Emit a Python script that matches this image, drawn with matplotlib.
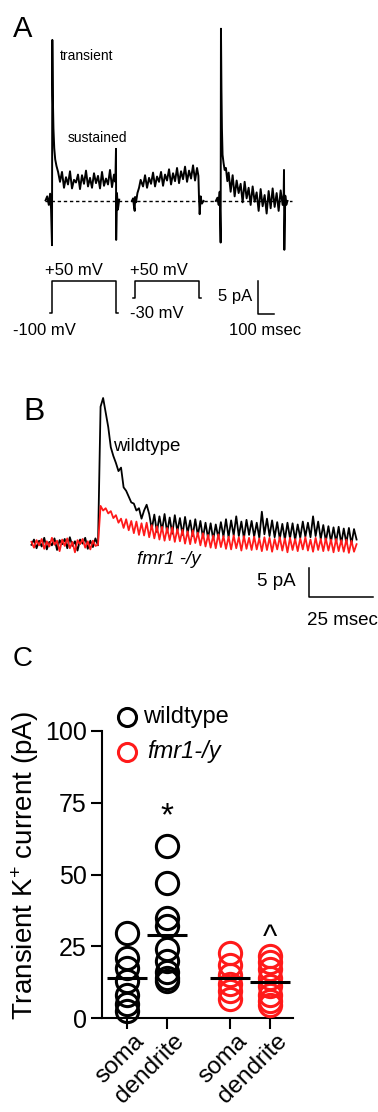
import numpy as np
import matplotlib
matplotlib.use("Agg")
import matplotlib.pyplot as plt
import matplotlib.transforms as mtransforms

plt.rcParams['font.family'] = ['Liberation Sans', 'DejaVu Sans']
plt.rcParams['mathtext.fontset'] = 'custom'
plt.rcParams['mathtext.rm'] = 'Liberation Sans'
plt.rcParams['mathtext.it'] = 'Liberation Sans:italic'

W, H = 378, 1112
RED = '#ff1a1a'

# ---- panel A: current traces (ms from step onset, pA) ----
seg1_t = [-40, -30, -20, -12, -6, 0, 2, 5, 9, 14,
          20, 28, 38, 50,
          62.5, 75, 87.5, 100, 112.5, 125, 137.5, 150, 162.5, 175,
          187.5, 200, 212.5, 225, 237.5, 250, 262.5, 275, 287.5, 300,
          312.5, 325, 337.5, 350, 362.5, 375, 387.5,
          396, 400, 401, 406, 412, 420]
seg1_pA = [0.1, 0.7, -0.6, 1.1, -1.2, -6.7, 24.4, 16.0, 11.0, 8.0,
           6.3, 5.3, 4.4, 2.9,
           4.4, 2.0, 3.6, 2.5, 4.5, 1.9, 3.2, 2.8, 4.0, 1.8,
           3.9, 2.6, 4.6, 2.2, 3.5, 2.0, 4.2, 2.7, 3.8, 1.9,
           4.4, 2.3, 3.4, 2.5, 4.7, 2.1, 4.0,
           2.9, 7.9, -5.9, 1.2, -1.3, 0.2]

seg2_t = [-20, -12, -6, -2, 0, 6, 15, 25, 35, 50,
          62.5, 75, 87.5, 100, 112.5, 125, 137.5, 150, 162.5, 175,
          187.5, 200, 212.5, 225, 237.5, 250, 262.5, 275, 287.5, 300,
          312.5, 325, 337.5, 350, 362.5, 375, 387.5,
          396, 400, 404, 410, 418, 428]
seg2_pA = [0.0, 0.4, -1.0, -1.5, 0.6, -0.2, 1.2, 2.0, 3.2, 2.2,
           3.9, 2.0, 3.5, 2.6, 4.3, 2.2, 3.7, 2.9, 4.4, 2.3,
           4.0, 3.1, 4.8, 2.5, 4.2, 3.0, 5.0, 2.7, 4.5, 3.3,
           5.2, 2.9, 4.6, 3.4, 5.4, 3.1, 5.0,
           3.8, 0.3, -2.0, 0.7, -0.4, 0.0]

seg3_t = [-30, -20, -12, -6, 0, 2, 5, 8, 12, 18,
          25, 33, 42, 50,
          62.5, 75, 87.5, 100, 112.5, 125, 137.5, 150, 162.5, 175,
          187.5, 200, 212.5, 225, 237.5, 250, 262.5, 275, 287.5, 300,
          312.5, 325, 337.5, 350, 362.5, 375, 387.5,
          394, 396, 398, 404, 410, 418]
seg3_pA = [0.0, 0.5, -0.6, 1.4, -6.3, 26.1, 17.0, 11.0, 7.0, 5.8,
           4.7, 5.0, 3.0, 4.3,
           1.4, 3.9, 0.7, 3.1, 1.2, 2.6, -0.2, 2.9, 0.4, 2.0,
           -0.6, 2.2, -0.1, 1.3, -1.5, 1.8, -0.8, 0.9, -1.9, 1.5,
           -1.1, 1.9, -0.9, 1.2, -1.5, 1.6, -0.6,
           1.0, 4.7, -7.4, 0.8, -0.6, 0.0]

seg_offsets_ms = [0, 519, 1054]

# voltage protocol
hold_mV = [-100, -30]
step_mV = 50
step_ms = 400

# ---- panel B: wildtype vs fmr1 -/y traces, 1 ms sampling ----
b_t = np.arange(-26, 102)
b_wt = [-0.3, 0.6, -0.9, 0.4, -0.6, 0.9, -1.1, 0.2, -0.4, 0.8,
        -1.2, 0.5, -0.2, 0.7, -0.9, 1.0, -0.5, 0.3, -1.3, 0.6,
        -0.1, 0.9, -1.0, 0.4, -0.7, 0.8,
        -0.4, 23.5, 25.0, 22.5, 20.0, 16.5, 15.0, 13.8, 12.4, 13.0,
        9.6, 9.0, 8.0, 7.0, 6.8, 5.6, 6.0, 4.2,
        5.6, 6.6, 5.0, 2.4, 4.9, 1.9, 4.6, 2.1, 5.0, 1.8,
        4.4, 1.6, 4.8, 2.0, 4.3, 1.4, 4.5, 1.7, 3.9, 1.2,
        4.1, 1.3, 3.8, 0.9, 3.5, 0.8, 3.4, 0.6, 3.2, 0.9,
        3.6, 1.1, 4.1, 1.0, 3.9, 1.3, 4.6, 1.2, 3.7, 0.8,
        4.0, 1.4, 3.8, 1.1, 3.5, 0.9, 5.4, 1.5, 4.2, 1.2,
        3.9, 1.0, 3.6, 0.7, 3.3, 0.6, 3.5, 0.8, 3.4, 0.5,
        3.2, 0.9, 3.7, 1.1, 3.5, 1.0, 4.6, 1.2, 3.7, 0.7,
        3.1, 0.3, 2.9, 0.2, 2.7, 0.1, 2.8, -0.1, 2.5, 0.0,
        2.6, -0.2, 2.4, 0.6]
b_ko = [0.2, -0.8, 0.5, -0.4, 0.7, -1.0, 0.3, -0.6, 0.9, -0.3,
        0.4, -1.4, 0.6, -0.5, 0.8, -0.9, 0.2, -1.6, 0.5, -0.2,
        0.7, -0.8, 0.3, -1.1, 0.4, -0.5,
        -0.3, 6.4, 5.6, 6.0, 5.1, 5.5, 4.3, 4.8, 3.5, 4.2,
        2.6, 4.1, 2.2, 3.8, 1.7, 3.7, 1.4, 3.4, 1.3, 3.5,
        1.0, 3.1, 0.8, 2.9, 0.6, 2.8, 0.4, 2.6, 0.5, 2.7,
        0.2, 2.4, 0.3, 2.3, -0.1, 2.0, -0.2, 2.2, 0.0, 1.8,
        -0.4, 1.7, -0.6, 1.4, -0.8, 1.3, -0.9, 1.5, -0.7, 1.2,
        -1.0, 1.1, -1.1, 1.3, -0.9, 1.0, -1.3, 1.2, -1.0, 0.9,
        -1.2, 1.1, -1.1, 0.8, -1.4, 1.0, -1.2, 0.9, -1.5, 0.7,
        -1.1, 1.0, -1.3, 0.8, -1.6, 0.9, -1.2, 0.7, -1.4, 0.8,
        -1.1, 1.0, -1.3, 0.6, -1.5, 0.9, -1.2, 0.7, -1.4, 0.8,
        -1.3, 0.6, -1.6, 0.7, -1.4, 0.5, -1.5, 0.6, -1.7, 0.4,
        -1.5, -0.2]

# ---- panel C: transient K+ current (pA) ----
groups = ['soma', 'dendrite', 'soma', 'dendrite']
group_pos = [0, 1, 2.575, 3.575]
wt_soma = [29.5, 21, 17.5, 13, 8, 5, 2.5]
wt_dend = [60, 47, 35, 32, 24, 20, 16, 14, 13]
ko_soma = [22.5, 18.5, 15, 12, 9.5, 6.5]
ko_dend = [21.5, 19.5, 17, 14, 11, 8, 6, 4.5]
group_vals = [wt_soma, wt_dend, ko_soma, ko_dend]
group_cols = ['black', 'black', RED, RED]
y_ticks = [0, 25, 50, 75, 100]

fig = plt.figure(figsize=(W / 100, H / 100), dpi=100)


def px_axes(x0, y0, x1, y1):
    return fig.add_axes([x0 / W, 1 - y1 / H, (x1 - x0) / W, (y1 - y0) / H])


# ---------------- A ----------------
axA = px_axes(0, 0, 378, 350)
axA.set_xlim(-325, 2037.5)
axA.set_ylim(-22.58, 30.45)
axA.axis('off')
axA.plot([-44, 1500], [0, 0], color='black', lw=1.0, ls=(0, (2.4, 2.0)))
for off, t, v in zip(seg_offsets_ms, [seg1_t, seg2_t, seg3_t], [seg1_pA, seg2_pA, seg3_pA]):
    axA.plot(np.array(t) + off, v, color='black', lw=1.4)
axA.text(50, 22, 'transient', fontsize=10, va='center', ha='left')
axA.text(100, 9.5, 'sustained', fontsize=10, va='center', ha='left')
# scale bar 100 ms / 5 pA
axA.plot([1287.5, 1287.5, 1387.5], [-12.1, -17.1, -17.1], color='black', lw=1.1)
axA.text(1250, -14.4, '5 pA', fontsize=12, ha='right', va='center')
axA.text(1331, -19.6, '100 msec', fontsize=12, ha='center', va='center')

axP = px_axes(0, 255, 378, 345)
axP.set_xlim(-325, 2037.5)
axP.set_ylim(-250, 171.9)
axP.axis('off')
for off, hold in zip(seg_offsets_ms[:2], hold_mV):
    axP.plot(np.array([-12.5, 0, 0, step_ms, step_ms, step_ms + 12.5]) + off,
             [hold, hold, step_mV, step_mV, hold, hold], color='black', lw=1.1)
axP.text(-44, 101, '+50 mV', fontsize=12, ha='left', va='center')
axP.text(-244, -184, '-100 mV', fontsize=12, ha='left', va='center')
axP.text(487, 101, '+50 mV', fontsize=12, ha='left', va='center')
axP.text(487, -100, '-30 mV', fontsize=12, ha='left', va='center')

# ---------------- B ----------------
axB = px_axes(0, 370, 378, 640)
axB.set_xlim(-38.28, 109.37)
axB.set_ylim(-16.72, 29.83)
axB.axis('off')
axB.plot(b_t, b_wt, color='black', lw=1.3)
axB.plot(b_t, b_ko, color=RED, lw=1.3)
axB.text(5.9, 16.7, 'wildtype', fontsize=13.5, ha='left', va='center')
axB.text(15.2, -2.9, 'fmr1 -/y', fontsize=13.5, ha='left', va='center', style='italic')
axB.plot([82.4, 82.4, 107.4], [-4.3, -9.3, -9.3], color='black', lw=1.1, clip_on=False)
axB.text(77.3, -6.6, '5 pA', fontsize=13.5, ha='right', va='center')
axB.text(81.6, -13.3, '25 msec', fontsize=13.5, ha='left', va='center')

# ---------------- C ----------------
axC = px_axes(102, 731, 293, 1018)
axC.set_xlim(-0.625, 4.15)
axC.set_ylim(0, 100)
for pos, vals, col in zip(group_pos, group_vals, group_cols):
    axC.plot([pos] * len(vals), vals, 'o', ms=16, mfc='none', mec=col, mew=2.2,
             clip_on=False, zorder=3)
for pos, vals in zip(group_pos, group_vals):
    axC.plot([pos - 0.5, pos + 0.5], [np.mean(vals)] * 2, color='black', lw=2.2,
             solid_capstyle='butt', zorder=4)
axC.spines['top'].set_visible(False)
axC.spines['right'].set_visible(False)
for s in ['left', 'bottom']:
    axC.spines[s].set_linewidth(1.5)
axC.set_yticks(y_ticks)
axC.set_xticks(group_pos)
axC.set_xticklabels(groups, rotation=45, ha='right', rotation_mode='anchor')
axC.tick_params(axis='both', length=8, width=1.5, labelsize=18, pad=3)
axC.tick_params(axis='x', labelsize=17.5, pad=1)
shift = mtransforms.ScaledTranslation(6 / 100, 0, fig.dpi_scale_trans)
for lab in axC.get_xticklabels():
    lab.set_transform(lab.get_transform() + shift)
axC.text(-0.403, 0.53, 'Transient K$^{+}$ current (pA)', transform=axC.transAxes,
         rotation=90, ha='center', va='center', fontsize=20)
axC.text(1, 70, '*', fontsize=24, ha='center', va='center')
axC.text(3.575, 28, '^', fontsize=22, ha='center', va='center')
# legend
axC.plot([0], [104.9], 'o', ms=13, mfc='none', mec='black', mew=2.2, clip_on=False)
axC.plot([0], [92.7], 'o', ms=13, mfc='none', mec=RED, mew=2.2, clip_on=False)
axC.text(0.4, 104.9, 'wildtype', fontsize=17, ha='left', va='center')
axC.text(0.5, 92.7, 'fmr1-/y', fontsize=17, ha='left', va='center', style='italic')

# panel letters
fig.text(13 / W, 1 - 37 / H, 'A', fontsize=21, va='baseline')
fig.text(23 / W, 1 - 420 / H, 'B', fontsize=23, va='baseline')
fig.text(13 / W, 1 - 666 / H, 'C', fontsize=20, va='baseline')

fig.savefig('out.png', dpi=100)
